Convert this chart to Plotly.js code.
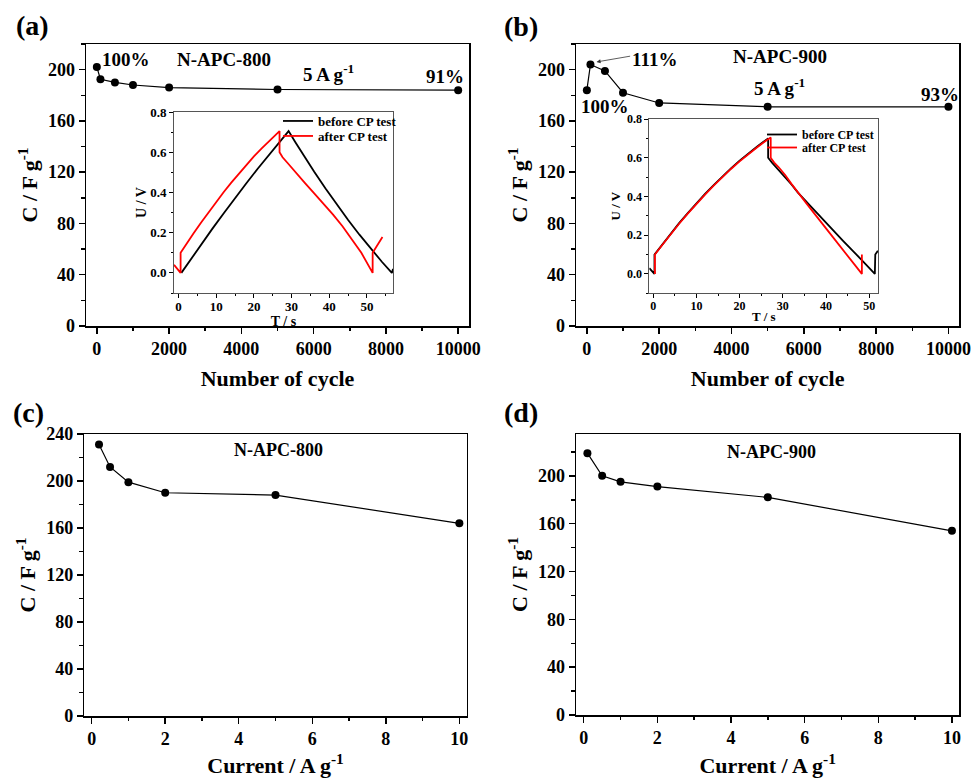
<!DOCTYPE html>
<html>
<head>
<meta charset="utf-8">
<script src="https://cdn.plot.ly/plotly-3.0.1.min.js"></script>
<style>html,body{margin:0;padding:0;background:#fff;}#chart{width:972px;height:778px;}</style>
</head>
<body>
<div id="chart"></div>
<script>
// ---------- DATA ----------
// (a) N-APC-800 cycling at 5 A g-1
const cyclesA = [0, 100, 500, 1000, 2000, 5000, 10000];
const capA    = [202, 192.5, 190, 188, 186, 184.5, 184];
// (b) N-APC-900 cycling at 5 A g-1
const cyclesB = [0, 100, 500, 1000, 2000, 5000, 10000];
const capB    = [184, 204, 199, 182, 174, 171, 171];
// (c) N-APC-800 rate capability
const currentC = [0.2, 0.5, 1, 2, 5, 10];
const capC     = [231, 212, 199, 190, 188, 164];
// (d) N-APC-900 rate capability
const currentD = [0.1, 0.5, 1, 2, 5, 10];
const capD     = [219, 200, 195, 191, 182, 154];

// inset (a): CP curves (U / V vs T / s)
const tBeforeA = [0.75, 3, 6, 9, 12, 15, 18, 21, 24, 27, 29.2, 31, 33, 36, 39, 42, 45, 48, 51, 54, 56.6, 56.9];
const vBeforeA = [0, 0.061, 0.142, 0.22, 0.297, 0.373, 0.446, 0.518, 0.588, 0.656, 0.705, 0.65, 0.59, 0.503, 0.42, 0.34, 0.263, 0.19, 0.12, 0.054, 0, 0.02];
const tAfterA  = [-1.2, 0.55, 0.55, 2, 4, 6, 8, 10, 12, 14, 16, 18, 20, 22, 24, 26.8, 26.8, 27.6, 29, 31, 33.5, 36, 38.5, 41, 43.5, 46, 48.5, 51.5, 51.5, 54.1];
const vAfterA  = [0.04, 0, 0.1, 0.142, 0.197, 0.251, 0.303, 0.354, 0.402, 0.449, 0.494, 0.537, 0.579, 0.618, 0.656, 0.705, 0.6, 0.575, 0.545, 0.5, 0.448, 0.395, 0.343, 0.29, 0.232, 0.168, 0.1, 0, 0.1, 0.178];

// inset (b): CP curves
const tBeforeB = [-0.9, 0.3, 0.3, 2, 4, 6, 8, 10, 12, 14, 16, 18, 20, 22, 24, 26.6, 26.6, 27.5, 28.5, 30, 32, 33.5, 36, 40, 44, 48, 51.3, 51.4, 52.0];
const vBeforeB = [0.03, 0, 0.1, 0.15, 0.207, 0.262, 0.314, 0.365, 0.413, 0.459, 0.503, 0.545, 0.585, 0.622, 0.657, 0.7, 0.6, 0.575, 0.55, 0.515, 0.462, 0.42, 0.36, 0.265, 0.17, 0.078, 0, 0.1, 0.12];
const tAfterB  = [0.4, 0.4, 2, 4, 6, 8, 10, 12, 14, 16, 18, 20, 22, 24, 26, 27.2, 27.2, 28, 29, 30.5, 32, 33.5, 36, 40, 44, 48.3, 48.3];
const vAfterB  = [0, 0.1, 0.147, 0.204, 0.259, 0.311, 0.362, 0.41, 0.456, 0.5, 0.542, 0.581, 0.618, 0.653, 0.686, 0.705, 0.6, 0.575, 0.552, 0.512, 0.465, 0.42, 0.349, 0.235, 0.122, 0, 0.1];

const seriesNames = ['before CP test', 'after CP test'];

// ---------- LAYOUT HELPERS ----------
const W = 972, H = 778;
const px = v => v / W;
const py = v => 1 - v / H;
const FAM = 'Liberation Serif';
const f = (size, color) => ({family: FAM, size: size, weight: 'bold', color: color || '#000'});

function mainAxis(domain, range, dtick, minorDtick, anchor, titleText, standoff) {
  return {
    domain: domain, range: range, anchor: anchor,
    dtick: dtick, tick0: 0, tickformat: 'd',
    ticks: 'outside', ticklen: 6, tickwidth: 1.5, tickcolor: '#000',
    minor: {dtick: minorDtick, ticks: 'outside', ticklen: 3.5, tickwidth: 1.5, tickcolor: '#000', showgrid: false},
    showline: true, linewidth: 1.5, linecolor: '#000', mirror: true,
    showgrid: false, zeroline: false,
    tickfont: f(18),
    title: {text: titleText, font: f(22), standoff: standoff}
  };
}
function insetAxis(domain, range, dtick, minorDtick, anchor, titleText, fs, fmt, standoff, lblOff) {
  return {
    domain: domain, range: range, anchor: anchor,
    dtick: dtick, tick0: 0, tickformat: fmt,
    ticks: 'outside', ticklen: 4, tickwidth: 1, tickcolor: '#000',
    minor: {dtick: minorDtick, ticks: 'outside', ticklen: 2, tickwidth: 1, tickcolor: '#000', showgrid: false},
    showline: true, linewidth: 1, linecolor: '#555', mirror: true,
    showgrid: false, zeroline: false,
    ticklabelstandoff: lblOff,
    tickfont: f(fs),
    title: {text: titleText, font: f(fs + 1), standoff: standoff}
  };
}

const dot = {color: '#000', size: 8};
const traces = [
  {x: cyclesA, y: capA, xaxis: 'x', yaxis: 'y', mode: 'lines+markers', line: {color: '#000', width: 1.2}, marker: dot, showlegend: false},
  {x: cyclesB, y: capB, xaxis: 'x2', yaxis: 'y2', mode: 'lines+markers', line: {color: '#000', width: 1.2}, marker: dot, showlegend: false},
  {x: currentC, y: capC, xaxis: 'x3', yaxis: 'y3', mode: 'lines+markers', line: {color: '#000', width: 1.2}, marker: dot, showlegend: false},
  {x: currentD, y: capD, xaxis: 'x4', yaxis: 'y4', mode: 'lines+markers', line: {color: '#000', width: 1.2}, marker: dot, showlegend: false},
  {x: tBeforeA, y: vBeforeA, xaxis: 'x5', yaxis: 'y5', mode: 'lines', name: seriesNames[0], line: {color: '#000', width: 1.8}, legend: 'legend'},
  {x: tAfterA, y: vAfterA, xaxis: 'x5', yaxis: 'y5', mode: 'lines', name: seriesNames[1], line: {color: '#ff0000', width: 1.8}, legend: 'legend2'},
  {x: tBeforeB, y: vBeforeB, xaxis: 'x6', yaxis: 'y6', mode: 'lines', name: seriesNames[0], line: {color: '#000', width: 1.8}, legend: 'legend3'},
  {x: tAfterB, y: vAfterB, xaxis: 'x6', yaxis: 'y6', mode: 'lines', name: seriesNames[1], line: {color: '#ff0000', width: 1.8}, legend: 'legend4'}
];

const ann = (text, x, y, xref, yref, size) => ({text: text, x: x, y: y, xref: xref, yref: yref, showarrow: false, font: f(size), xanchor: 'center', yanchor: 'middle'});

const annotations = [
  ann('(a)', px(32), py(25), 'paper', 'paper', 28),
  ann('(b)', px(521), py(27), 'paper', 'paper', 28),
  ann('(c)', px(28), py(412), 'paper', 'paper', 28),
  ann('(d)', px(521), py(412), 'paper', 'paper', 28),
  ann('100%', 803, 208.3, 'x', 'y', 19),
  ann('N-APC-800', 3529, 208.3, 'x', 'y', 19),
  ann('5 A g<sup>-1</sup>', 6407, 197.4, 'x', 'y', 19),
  ann('91%', 9646, 194.3, 'x', 'y', 19),
  ann('111%', 1882, 208.3, 'x2', 'y2', 19),
  ann('N-APC-900', 5342, 209.9, 'x2', 'y2', 19),
  ann('5 A g<sup>-1</sup>', 5314, 186.5, 'x2', 'y2', 19),
  ann('93%', 9757, 180.3, 'x2', 'y2', 19),
  ann('100%', 498, 170.9, 'x2', 'y2', 19),
  ann('N-APC-800', 5.07, 226.6, 'x3', 'y3', 18),
  ann('N-APC-900', 5.09, 219.75, 'x4', 'y4', 18),
  {text: '', x: 269, y: 206, xref: 'x2', yref: 'y2', ax: 1238, ay: 210.7, axref: 'x2', ayref: 'y2',
   showarrow: true, arrowhead: 2, arrowsize: 1, arrowwidth: 0.8, arrowcolor: '#333'}
];

const leg = (x, y, size) => ({x: px(x), y: py(y), xanchor: 'left', yanchor: 'top', bgcolor: 'rgba(0,0,0,0)', borderwidth: 0,
  font: f(size), tracegroupgap: 0, itemwidth: 30});

const layout = {
  width: W, height: H,
  margin: {l: 0, r: 0, t: 0, b: 0},
  paper_bgcolor: '#fff', plot_bgcolor: '#fff',
  font: f(14),
  showlegend: true,
  xaxis:  mainAxis([px(86), px(469)], [-300, 10300], 2000, 1000, 'y', 'Number of cycle', 12),
  yaxis:  mainAxis([py(326), py(44)], [0, 220], 40, 20, 'x', 'C / F g<sup>-1</sup>', 4),
  xaxis2: mainAxis([px(576), px(959.3)], [-300, 10300], 2000, 1000, 'y2', 'Number of cycle', 12),
  yaxis2: mainAxis([py(326), py(44)], [0, 220], 40, 20, 'x2', 'C / F g<sup>-1</sup>', 4),
  xaxis3: mainAxis([px(84.3), px(466.7)], [-0.2, 10.2], 2, 1, 'y3', 'Current / A g<sup>-1</sup>', 12),
  yaxis3: mainAxis([py(716), py(434)], [0, 240], 40, 20, 'x3', 'C / F g<sup>-1</sup>', 4),
  xaxis4: mainAxis([px(576), px(959.3)], [-0.21, 10.2], 2, 1, 'y4', 'Current / A g<sup>-1</sup>', 12),
  yaxis4: mainAxis([py(715), py(434)], [0, 235], 40, 20, 'x4', 'C / F g<sup>-1</sup>', 4),
  xaxis5: insetAxis([px(174), px(393)], [-1.2, 56.9], 10, 5, 'y5', 'T / s', 13, '', 0, -3),
  yaxis5: insetAxis([py(293), py(112)], [-0.1, 0.8], 0.2, 0.1, 'x5', 'U / V', 13, '.1f', 0, 0),
  xaxis6: insetAxis([px(649.3), px(878.3)], [-0.9, 52.1], 10, 5, 'y6', 'T / s', 12, '', 0, -3),
  yaxis6: insetAxis([py(293.3), py(119)], [-0.1, 0.8], 0.2, 0.1, 'x6', 'U / V', 12, '.1f', 3, 0),
  legend:  leg(278, 106, 13),
  legend2: leg(278, 121, 13),
  legend3: leg(762, 120, 12),
  legend4: leg(762, 133, 12),
  annotations: annotations
};

Plotly.newPlot('chart', traces, layout, {displayModeBar: false, staticPlot: true});
</script>
</body>
</html>
